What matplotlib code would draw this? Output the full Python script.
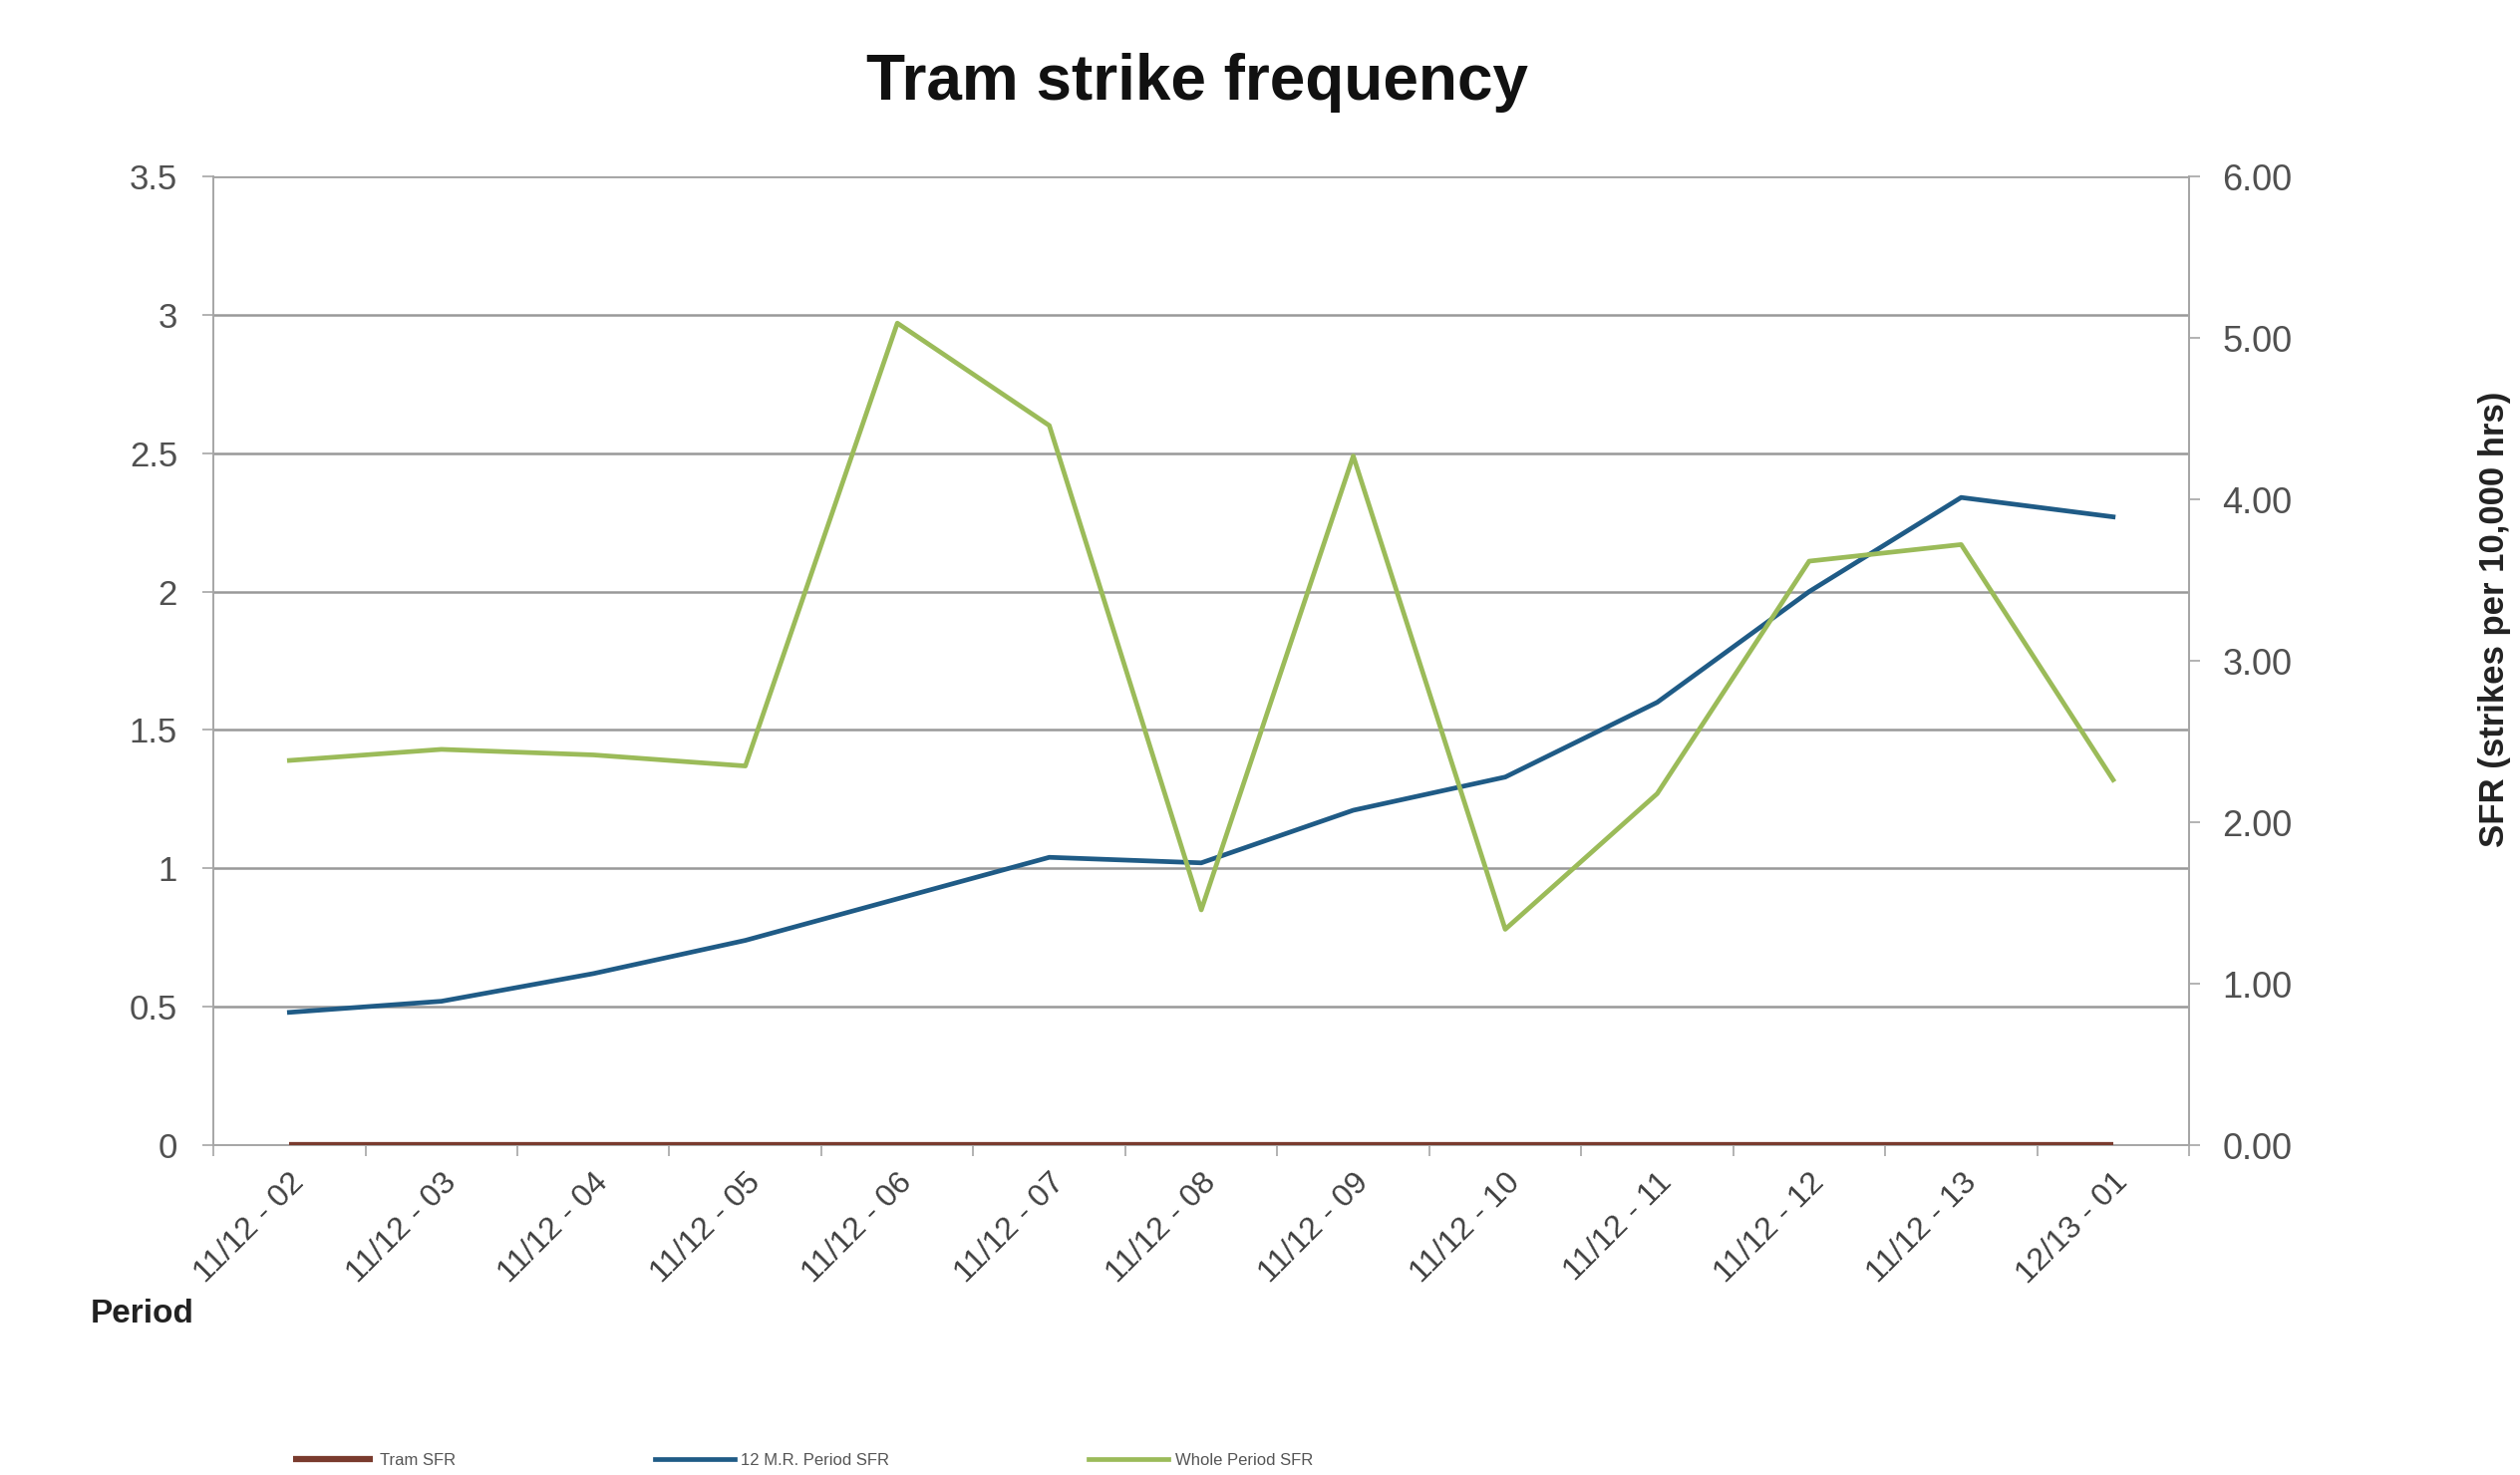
"""
Tram strike frequency: rolling and per-period strike rate, Excel-style line chart.
"""

import matplotlib
matplotlib.use("Agg")
import matplotlib.pyplot as plt
import matplotlib.ticker as ticker
import numpy as np

plt.rcParams.update({
    "font.family": ["Liberation Sans", "DejaVu Sans"],
})

# ── Data ─────────────────────────────────────────────────────────────────────
periods = ["11/12 - 02", "11/12 - 03", "11/12 - 04", "11/12 - 05", "11/12 - 06",
           "11/12 - 07", "11/12 - 08", "11/12 - 09", "11/12 - 10", "11/12 - 11",
           "11/12 - 12", "11/12 - 13", "12/13 - 01"]
tram_sfr = [0, 0, 0, 0, 0, 0, 0, 0, 0, 0, 0, 0, 0]
rolling_sfr = [0.48, 0.52, 0.62, 0.74, 0.89, 1.04, 1.02, 1.21, 1.33, 1.60, 2.00, 2.34, 2.27]
period_sfr = [1.39, 1.43, 1.41, 1.37, 2.97, 2.60, 0.85, 2.49, 0.78, 1.27, 2.11, 2.17, 1.32]
legend_labels = ["Tram SFR", "12 M.R. Period SFR", "Whole Period SFR"]

left_ticks = [0, 0.5, 1, 1.5, 2, 2.5, 3, 3.5]
right_ticks = [0, 1, 2, 3, 4, 5, 6]

# ── Plot ─────────────────────────────────────────────────────────────────────
fig = plt.figure(figsize=(25.28, 14.8), dpi=100)
ax = fig.add_axes([0.0847, 0.2236, 0.784, 0.6568])

x = np.arange(len(periods))
ax.plot(x, tram_sfr, color="#7a3b2e", linewidth=4.5, label=legend_labels[0],
        solid_capstyle="butt", zorder=4)
ax.plot(x, rolling_sfr, color="#1f5b86", linewidth=3.4, label=legend_labels[1], zorder=3)
ax.plot(x, period_sfr, color="#9bbb59", linewidth=3.4, label=legend_labels[2], zorder=3)

ax.set_xlim(-0.5, len(periods) - 0.5)
ax.set_ylim(0, 3.5)
ax.set_yticks(left_ticks)
ax.yaxis.set_major_formatter(ticker.FuncFormatter(lambda v, _: f"{v:g}"))
ax.grid(axis="y", color="#999999", linewidth=1.8)
ax.set_axisbelow(True)

ax.set_xticks(x)
ax.set_xticklabels(periods, rotation=45, ha="right", rotation_mode="anchor")
ax.set_xticks(np.arange(-0.5, len(periods)), minor=True)
ax.tick_params(axis="x", which="major", length=0, pad=16, labelsize=23, labelcolor="#404040")
ax.tick_params(axis="x", which="minor", length=8, color="#a6a6a6", width=1.2)
ax.tick_params(axis="y", length=8, color="#a6a6a6", width=1.2, pad=18,
               labelsize=25, labelcolor="#505050")

ax.spines["top"].set_visible(False)
for side in ("left", "right", "bottom"):
    ax.spines[side].set_color("#a6a6a6")
    ax.spines[side].set_linewidth(1.4)

# secondary axis for SFR scale
ax2 = ax.twinx()
ax2.set_ylim(0, 6)
ax2.set_yticks(right_ticks)
ax2.yaxis.set_major_formatter(ticker.FuncFormatter(lambda v, _: f"{v:.2f}"))
ax2.tick_params(axis="y", length=8, color="#a6a6a6", width=1.2, pad=16,
                labelsize=26, labelcolor="#505050")
for side in ("top", "left", "bottom"):
    ax2.spines[side].set_visible(False)
ax2.spines["right"].set_color("#a6a6a6")
ax2.spines["right"].set_linewidth(1.4)

fig.text(0.475, 0.944, "Tram strike frequency", ha="center", va="center",
         fontsize=46, fontweight="bold", color="#111111")
fig.text(0.036, 0.109, "Period", ha="left", va="center",
         fontsize=24, fontweight="bold", color="#222222")
fig.text(0.990, 0.58, "SFR (strikes per 10,000 hrs)", ha="center", va="center",
         rotation=90, fontsize=25, fontweight="bold", color="#222222")

fig.legend(loc="center left", bbox_to_anchor=(0.113, 0.010), ncol=3, frameon=False,
           fontsize=12, handlelength=4.8, columnspacing=12, handletextpad=0.4,
           borderpad=0, labelcolor="#555555")

fig.savefig("out.png", dpi=100)
